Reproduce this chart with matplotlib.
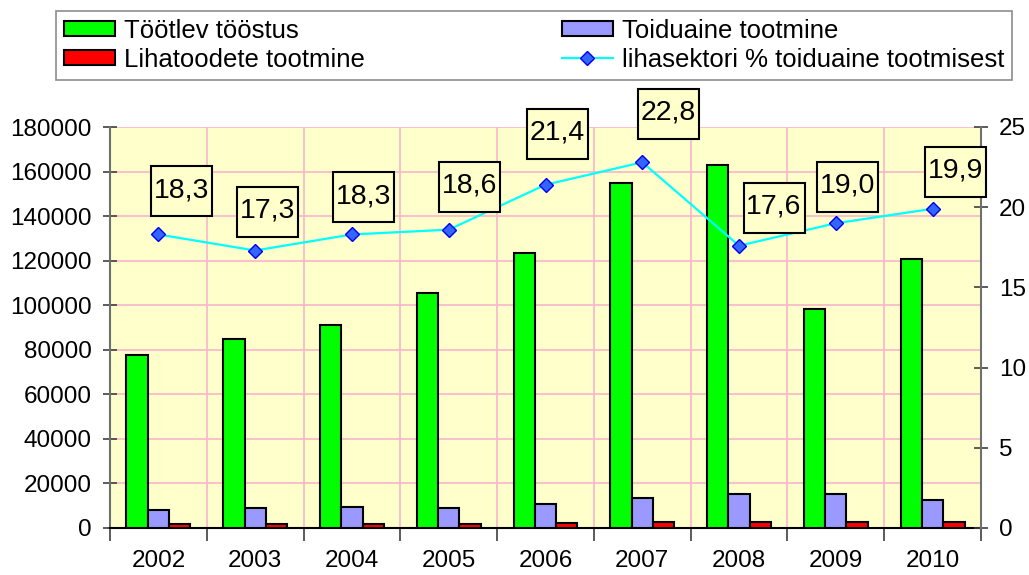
import numpy as np
import matplotlib.pyplot as plt
from matplotlib.patches import Patch, Rectangle
from matplotlib.lines import Line2D
from matplotlib.transforms import Affine2D, ScaledTranslation

plt.rcParams['font.family'] = ['Liberation Sans', 'DejaVu Sans']

# andmed
years = ['2002', '2003', '2004', '2005', '2006', '2007', '2008', '2009', '2010']
tootlev = [77600, 84700, 91000, 105400, 123300, 154800, 162900, 98200, 120800]
toiduaine = [8000, 8800, 9600, 8800, 10600, 13300, 15100, 15100, 12400]
lihatoodete = [1600, 1600, 1700, 1650, 2400, 2700, 2600, 2700, 2500]
protsent = [18.3, 17.3, 18.3, 18.6, 21.4, 22.8, 17.6, 19.0, 19.9]

# siltide kastide nihe punktist (pikslites)
label_offsets = [(23, 43), (12, 39), (12, 37), (21, 43), (12, 51),
                 (26, 48), (35, 38), (12, 36), (23, 37)]

grid_col = '#F7B5CB'

fig = plt.figure(figsize=(10.29, 5.75), dpi=100)
ax = fig.add_axes([110/1029, 1 - 528/575, 871/1029, 401/575])
ax.set_facecolor('#FFFFCC')

x = np.arange(len(years))
w = 0.22
ax.bar(x - w, tootlev, w, color='#00FF00', edgecolor='black', linewidth=1.5, zorder=3)
ax.bar(x, toiduaine, w, color='#9999FF', edgecolor='black', linewidth=1.5, zorder=3)
ax.bar(x + w, lihatoodete, w, color='#FF0000', edgecolor='black', linewidth=1.5, zorder=3)

ax.set_xlim(-0.5, len(years) - 0.5)
ax.set_ylim(0, 180000)
ax.set_yticks(np.arange(0, 180001, 20000))
ax.set_xticks(x)
ax.set_xticklabels(years)
ax.set_xticks(np.arange(-0.5, len(years)), minor=True)
ax.tick_params(axis='x', which='major', length=0, pad=16, labelsize=17.5)
ax.tick_params(axis='x', which='minor', length=9, direction='out', width=1.2, color='#404040')
ax.tick_params(axis='y', direction='inout', length=10, width=1.2, pad=8,
               labelsize=17.5, color='#404040')
ax.grid(True, axis='y', color=grid_col, linewidth=1.2, zorder=0)
ax.grid(True, axis='x', which='minor', color=grid_col, linewidth=1.2, zorder=0)
ax.set_axisbelow(True)

ax.spines['top'].set_visible(False)
ax.spines['left'].set_color('#707070')
ax.spines['left'].set_linewidth(1.5)
ax.spines['right'].set_visible(False)
ax.spines['bottom'].set_color('black')
ax.spines['bottom'].set_linewidth(1.5)

ax2 = ax.twinx()
ax2.set_ylim(0, 25)
ax2.set_yticks(np.arange(0, 26, 5))
ax2.tick_params(axis='y', direction='inout', length=10, width=1.2, pad=8,
                labelsize=17.5, color='#404040')
ax2.spines['top'].set_visible(False)
ax2.spines['left'].set_visible(False)
ax2.spines['bottom'].set_visible(False)
ax2.spines['right'].set_color('#707070')
ax2.spines['right'].set_linewidth(1.5)

ax2.plot(x, protsent, color='#00FFFF', linewidth=1.6, marker='D', markersize=7,
         markerfacecolor='#3366FF', markeredgecolor='#0000EE', markeredgewidth=1,
         zorder=4)

for xi, v, (dx, dy) in zip(x, protsent, label_offsets):
    tr = Affine2D() + ScaledTranslation(xi, v, ax2.transData)
    ax2.add_patch(Rectangle((dx - 30.5, dy - 25), 61, 50, transform=tr,
                            facecolor='#FFFFCC', edgecolor='black',
                            linewidth=1.5, clip_on=False, zorder=5))
    ax2.annotate(f'{v:.1f}'.replace('.', ','), xy=(xi, v),
                 xytext=(dx * 0.72, dy * 0.72 + 1), textcoords='offset points',
                 ha='center', va='center', fontsize=20.5, zorder=6,
                 annotation_clip=False)

handles = [
    Patch(facecolor='#00FF00', edgecolor='black', linewidth=1.5),
    Patch(facecolor='#FF0000', edgecolor='black', linewidth=1.5),
    Patch(facecolor='#9999FF', edgecolor='black', linewidth=1.5),
    Line2D([], [], color='#00FFFF', linewidth=1.6, marker='D', markersize=7,
           markerfacecolor='#3366FF', markeredgecolor='#0000EE'),
]
labels = ['Töötlev tööstus', 'Lihatoodete tootmine', 'Toiduaine tootmine',
          'lihasektori % toiduaine tootmisest']
leg = fig.legend(handles, labels, ncol=2, loc='upper left',
                 bbox_to_anchor=(56/1029, 1 - 81/575, 956/1029, 70/575),
                 mode='expand', fontsize=18.5, frameon=True, fancybox=False,
                 borderaxespad=0, borderpad=0.3, handlelength=2.0,
                 handleheight=0.55, handletextpad=0.35, labelspacing=0.2)
leg.get_frame().set_edgecolor('#707070')
leg.get_frame().set_linewidth(1.2)

fig.savefig('out.png', dpi=100)
